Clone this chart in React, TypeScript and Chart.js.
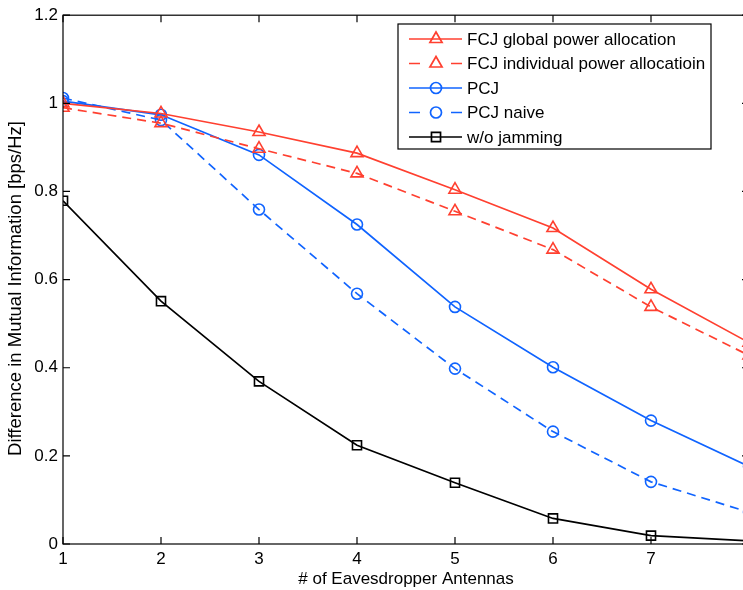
import React, { useEffect, useRef } from "react";
import { Chart, registerables } from "chart.js";

Chart.register(...registerables);

const xValues = [1, 2, 3, 4, 5, 6, 7, 8];
const xTicks = [1, 2, 3, 4, 5, 6, 7];
const yTicks = [0, 0.2, 0.4, 0.6, 0.8, 1, 1.2];
const yTickLabels = ["0", "0.2", "0.4", "0.6", "0.8", "1", "1.2"];

const fcjGlobal = [1.0, 0.977, 0.935, 0.887, 0.804, 0.717, 0.578, 0.457];
const fcjIndividual = [0.99, 0.955, 0.897, 0.841, 0.755, 0.668, 0.538, 0.428];
const pcj = [1.005, 0.974, 0.883, 0.725, 0.538, 0.401, 0.28, 0.176];
const pcjNaive = [1.012, 0.962, 0.759, 0.568, 0.398, 0.255, 0.141, 0.072];
const noJamming = [0.779, 0.551, 0.369, 0.224, 0.139, 0.058, 0.019, 0.007];

const seriesNames = [
  "FCJ global power allocation",
  "FCJ individual power allocatioin",
  "PCJ",
  "PCJ naive",
  "w/o jamming",
];
const xTitle = "# of Eavesdropper Antennas";
const yTitle = "Difference in Mutual Information [bps/Hz]";

const RED = "rgb(255,64,48)";
const BLUE = "rgb(16,100,255)";
const BLACK = "#000";
const FONT = "'Liberation Sans', Arial, Helvetica, sans-serif";

function mk(label: string, data: number[], color: string, dashed: boolean, style: string, radius: number) {
  return {
    label,
    data: data.map((y, i) => ({ x: xValues[i], y })),
    borderColor: color,
    borderWidth: 1.7,
    borderDash: dashed ? [9, 6] : [],
    pointStyle: style,
    pointRadius: radius,
    pointBorderWidth: 1.6,
    pointBorderColor: color,
    pointBackgroundColor: "rgba(0,0,0,0)",
    tension: 0,
    fill: false,
  };
}

function drawMarker(ctx: CanvasRenderingContext2D, style: string, x: number, y: number, r: number) {
  ctx.beginPath();
  if (style === "triangle") {
    for (let k = 0; k < 3; k++) {
      const a = (k * 2 * Math.PI) / 3;
      const px = x + Math.sin(a) * r;
      const py = y - Math.cos(a) * r;
      if (k === 0) ctx.moveTo(px, py);
      else ctx.lineTo(px, py);
    }
    ctx.closePath();
  } else if (style === "circle") {
    ctx.arc(x, y, r, 0, Math.PI * 2);
  } else {
    const s = Math.SQRT1_2 * r;
    ctx.rect(x - s, y - s, 2 * s, 2 * s);
  }
  ctx.stroke();
}

const framePlugin = {
  id: "frameLegend",
  afterDraw(chart: any) {
    const ctx: CanvasRenderingContext2D = chart.ctx;
    const { left, right, top, bottom } = chart.chartArea;
    const xs = chart.scales.x;
    const ys = chart.scales.y;
    ctx.save();
    ctx.strokeStyle = "#000";
    ctx.lineWidth = 1.2;
    ctx.setLineDash([]);
    ctx.strokeRect(left, top, right - left, bottom - top);
    const tl = 7;
    ctx.beginPath();
    xTicks.forEach((v) => {
      const px = xs.getPixelForValue(v);
      ctx.moveTo(px, bottom);
      ctx.lineTo(px, bottom - tl);
      ctx.moveTo(px, top);
      ctx.lineTo(px, top + tl);
    });
    yTicks.forEach((v) => {
      const py = ys.getPixelForValue(v);
      ctx.moveTo(left, py);
      ctx.lineTo(left + tl, py);
      ctx.moveTo(right, py);
      ctx.lineTo(right - tl, py);
    });
    ctx.stroke();

    // y axis title
    ctx.save();
    ctx.translate(16, 288.5);
    ctx.rotate(-Math.PI / 2);
    ctx.fillStyle = "#000";
    ctx.font = `18.5px ${FONT}`;
    ctx.textAlign = "center";
    ctx.textBaseline = "middle";
    ctx.fillText(yTitle, 0, 0);
    ctx.restore();

    // legend
    const bx = 398, by = 24, bw = 313, bh = 125;
    ctx.fillStyle = "#fff";
    ctx.fillRect(bx, by, bw, bh);
    ctx.lineWidth = 1.2;
    ctx.strokeStyle = "#000";
    ctx.strokeRect(bx, by, bw, bh);
    ctx.font = `17px ${FONT}`;
    ctx.textBaseline = "middle";
    ctx.textAlign = "left";
    chart.data.datasets.forEach((ds: any, i: number) => {
      const y = 39 + i * 24.5;
      ctx.strokeStyle = ds.borderColor;
      ctx.lineWidth = ds.borderWidth;
      ctx.setLineDash([]);
      ctx.beginPath();
      if (ds.borderDash && ds.borderDash.length) {
        ctx.moveTo(409, y);
        ctx.lineTo(420, y);
        ctx.moveTo(451, y);
        ctx.lineTo(462, y);
      } else {
        ctx.moveTo(409, y);
        ctx.lineTo(462, y);
      }
      ctx.stroke();
      drawMarker(ctx, ds.pointStyle, 436, y, ds.pointRadius);
      ctx.fillStyle = "#000";
      ctx.fillText(ds.label, 467, y + 1);
    });
    ctx.restore();
  },
};

export default function App() {
  const ref = useRef<HTMLCanvasElement | null>(null);
  useEffect(() => {
    if (!ref.current) return;
    const chart = new Chart(ref.current, {
      type: "line",
      data: {
        datasets: [
          mk(seriesNames[0], fcjGlobal, RED, false, "triangle", 7),
          mk(seriesNames[1], fcjIndividual, RED, true, "triangle", 7),
          mk(seriesNames[2], pcj, BLUE, false, "circle", 5.5),
          mk(seriesNames[3], pcjNaive, BLUE, true, "circle", 5.5),
          mk(seriesNames[4], noJamming, BLACK, false, "rect", 6.4),
        ] as any,
      },
      options: {
        animation: false,
        responsive: false,
        devicePixelRatio: 1,
        layout: { padding: { left: 0, top: 13, right: 11, bottom: 0 } },
        plugins: { legend: { display: false }, tooltip: { enabled: false } },
        scales: {
          x: {
            type: "linear",
            min: 1,
            max: 8,
            afterBuildTicks: (s: any) => {
              s.ticks = xTicks.map((v) => ({ value: v }));
            },
            afterFit: (s: any) => {
              s.height = 46;
            },
            grid: { display: false, drawTicks: false },
            border: { display: false },
            ticks: {
              color: "#000",
              padding: 5,
              font: { family: FONT, size: 17 },
              callback: (v: any) => String(v),
              maxRotation: 0,
            },
            title: {
              display: true,
              text: xTitle,
              color: "#000",
              font: { family: FONT, size: 17 },
              padding: { top: 0, bottom: 0 },
            },
          },
          y: {
            type: "linear",
            min: 0,
            max: 1.2,
            afterBuildTicks: (s: any) => {
              s.ticks = yTicks.map((v) => ({ value: v }));
            },
            afterFit: (s: any) => {
              s.width = 63;
            },
            grid: { display: false, drawTicks: false },
            border: { display: false },
            ticks: {
              color: "#000",
              padding: 5,
              font: { family: FONT, size: 17 },
              callback: (v: any) => {
                const i = yTicks.findIndex((t) => Math.abs(t - v) < 1e-9);
                return i >= 0 ? yTickLabels[i] : "";
              },
            },
            title: { display: false },
          },
        },
      },
      plugins: [framePlugin],
    });
    return () => chart.destroy();
  }, []);
  return (
    <div
      style={{
        position: "fixed",
        left: 0,
        top: 0,
        width: 743,
        height: 590,
        overflow: "hidden",
        background: "#fff",
      }}
    >
      <canvas ref={ref} width={760} height={590} style={{ display: "block", width: 760, height: 590 }} />
    </div>
  );
}
